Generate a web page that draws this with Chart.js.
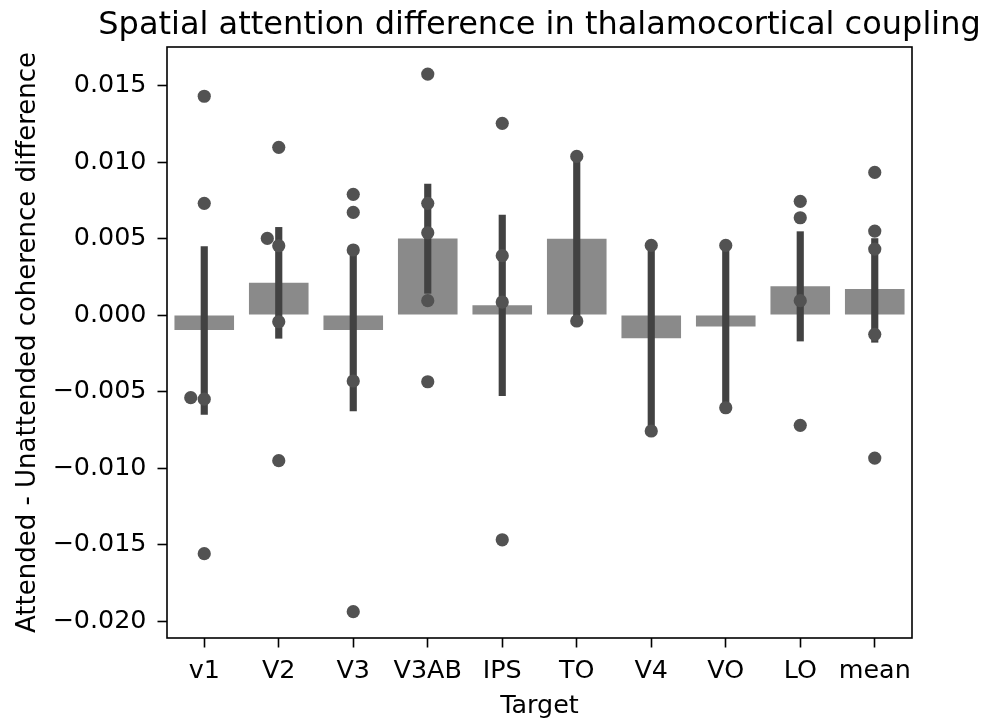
<!DOCTYPE html>
<html>
<head>
<meta charset="utf-8">
<script src="https://cdn.jsdelivr.net/npm/chart.js@4.4.0/dist/chart.umd.min.js"></script>
<style>
  html, body { margin: 0; padding: 0; background: #fff; }
</style>
</head>
<body>
<canvas id="chart" width="985" height="719"></canvas>
<script>
// values
const chartTitle = 'Spatial attention difference in thalamocortical coupling';
const targets = ['v1', 'V2', 'V3', 'V3AB', 'IPS', 'TO', 'V4', 'VO', 'LO', 'mean'];
const meanDiff = [-0.00098, 0.00211, -0.00097, 0.00500, 0.00064, 0.00499, -0.00152, -0.00075, 0.00188, 0.00170];
const ciLow  = [-0.00649, -0.00152, -0.00627, 0.00142, -0.00527, -0.00039, -0.00758, -0.00606, -0.00170, -0.00178];
const ciHigh = [ 0.00447,  0.00573,  0.00405, 0.00856,  0.00654,  0.01037,  0.00455,  0.00455,  0.00545,  0.00500];
const subjectDiffs = [
  [0.0143, 0.0073, -0.0054, -0.0055, -0.0156],
  [0.01096, 0.00501, 0.00453, -0.00044, -0.00952],
  [0.00789, 0.00671, 0.00425, -0.00431, -0.01939],
  [0.01575, 0.0073, 0.00538, 0.00094, -0.00436],
  [0.01253, 0.00388, 0.00085, -0.01469],
  [0.01037, -0.00039],
  [0.00455, -0.00758],
  [0.00455, -0.00606],
  [0.00743, 0.00636, 0.00094, -0.00721],
  [0.00932, 0.00549, 0.00431, -0.00126, -0.00935]
];
const yTicks = [-0.020, -0.015, -0.010, -0.005, 0, 0.005, 0.010, 0.015];

Chart.defaults.font.family = '"DejaVu Sans", sans-serif';
Chart.defaults.color = '#000';

const dotRadius = 6.6;
const dotGap = 13.6;

// simple beeswarm: nudge dots sideways only where they would overlap
function swarm(chart) {
  const xs = chart.scales.x, ys = chart.scales.y;
  const pxPerCat = xs.getPixelForValue(1) - xs.getPixelForValue(0);
  const out = [];
  subjectDiffs.forEach((vals, i) => {
    const placed = [];
    vals.map(v => ({v: v, py: ys.getPixelForValue(v)}))
      .sort((a, b) => b.py - a.py)
      .forEach(p => {
        const near = placed.filter(q => Math.abs(q.py - p.py) < dotGap);
        const cands = [0];
        near.forEach(q => {
          const d = Math.sqrt(dotGap * dotGap - (q.py - p.py) ** 2);
          cands.push(q.dx - d, q.dx + d);
        });
        cands.sort((a, b) => Math.abs(a) - Math.abs(b) || a - b);
        const dx = cands.find(c => near.every(q => Math.hypot(c - q.dx, p.py - q.py) >= dotGap - 0.01));
        placed.push({py: p.py, dx: dx});
        out.push({x: i + dx / pxPerCat, y: p.v});
      });
  });
  return out;
}

const framePlugin = {
  id: 'frame',
  afterDraw(chart) {
    const {ctx, chartArea: a} = chart;
    ctx.save();
    ctx.strokeStyle = '#000';
    ctx.lineWidth = 1.6;
    ctx.strokeRect(a.left, a.top, a.right - a.left, a.bottom - a.top);
    ctx.font = '32px "DejaVu Sans"';
    ctx.fillStyle = '#000';
    ctx.textAlign = 'center';
    ctx.textBaseline = 'alphabetic';
    ctx.fillText(chartTitle, (a.left + a.right) / 2, a.top - 13);
    ctx.restore();
  }
};

const chart = new Chart('chart', {
  type: 'bar',
  data: {
    datasets: [
      {
        type: 'scatter',
        data: subjectDiffs.flatMap((vals, i) => vals.map(v => ({x: i, y: v}))),
        pointRadius: dotRadius,
        pointHoverRadius: dotRadius,
        backgroundColor: '#525252',
        borderWidth: 0,
        order: 0
      },
      {
        data: targets.map((t, i) => ({x: i, y: [ciLow[i], ciHigh[i]]})),
        backgroundColor: '#424242',
        barThickness: 6.5,
        grouped: false,
        order: 1
      },
      {
        data: targets.map((t, i) => ({x: i, y: meanDiff[i]})),
        backgroundColor: '#8a8a8a',
        barPercentage: 0.8,
        categoryPercentage: 1.0,
        grouped: false,
        order: 2
      }
    ]
  },
  options: {
    responsive: false,
    animation: false,
    layout: { padding: { top: 47, left: 0, right: 73, bottom: 0 } },
    plugins: {
      legend: { display: false },
      tooltip: { enabled: false },
      title: { display: false }
    },
    scales: {
      x: {
        type: 'linear',
        min: -0.5,
        max: 9.5,
        offset: false,
        afterBuildTicks: axis => { axis.ticks = targets.map((t, i) => ({value: i})); },
        afterFit: axis => { axis.height = 81; },
        ticks: {
          autoSkip: false,
          maxRotation: 0,
          padding: 9,
          font: { size: 25.4 },
          callback: v => targets[v]
        },
        grid: { offset: false, drawOnChartArea: false, drawTicks: true, tickLength: 9.5, tickWidth: 1.6, tickColor: '#000' },
        border: { display: false },
        title: { display: true, text: 'Target', font: { size: 25.4 }, padding: { top: 0, bottom: -3 } }
      },
      y: {
        min: -0.02111,
        max: 0.01752,
        afterBuildTicks: axis => { axis.ticks = yTicks.map(v => ({value: v})); },
        afterFit: axis => { axis.width = 167; },
        ticks: {
          padding: 11,
          font: { size: 25.4 },
          callback: v => v.toFixed(3).replace('-', '\u2212')
        },
        grid: { drawOnChartArea: false, drawTicks: true, tickLength: 9.5, tickWidth: 1.6, tickColor: '#000' },
        border: { display: false },
        title: { display: true, text: 'Attended - Unattended coherence difference', font: { size: 26 }, padding: { top: 13, bottom: 0 } }
      }
    }
  },
  plugins: [framePlugin]
});

chart.data.datasets[0].data = swarm(chart);
chart.update('none');
</script>
</body>
</html>
